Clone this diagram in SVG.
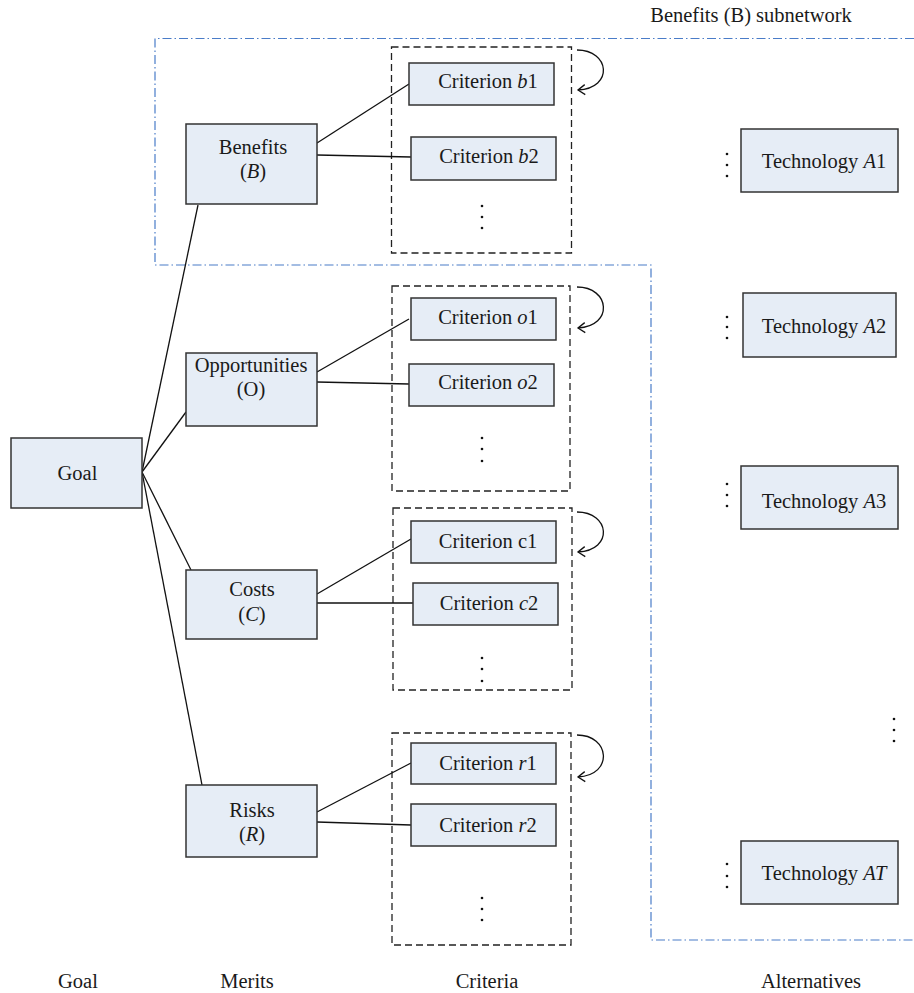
<svg xmlns="http://www.w3.org/2000/svg" width="914" height="993" viewBox="0 0 914 993">
<style>
  .t { font-family: 'Liberation Serif', 'Times New Roman', 'DejaVu Serif', serif; font-size: 20.5px; fill: #1a1a1a; }
  .c { text-anchor: middle; }
  .i { font-style: italic; }
  .box { fill: #e6edf6; stroke: #333; stroke-width: 1.5; }
  .grp { fill: none; stroke: #222; stroke-width: 1.3; stroke-dasharray: 7 4; }
  .sub { fill: none; stroke: #4a7cc8; stroke-width: 1.2; stroke-dasharray: 9 3 1.5 3; }
  .ln { stroke: #111; stroke-width: 1.3; fill: none; }
  .loop { stroke: #111; stroke-width: 1.3; fill: none; marker-end: url(#arr); }
  .dot { fill: #111; }
</style>
<defs>
  <marker id="arr" markerWidth="12" markerHeight="12" refX="9" refY="6" orient="auto" markerUnits="userSpaceOnUse">
    <path d="M2,1 L9,6 L2,11" fill="none" stroke="#111" stroke-width="1.3"/>
  </marker>
</defs>
<rect width="914" height="993" fill="#fff"/>

<g id="subnetwork">
  <path class="sub" d="M914,38.5 L155,38.5 L155,265 L651,265 L651,940 L914,940"/>
  <text class="t c" font-family="Liberation Serif, serif" x="751" y="22">Benefits (B) subnetwork</text>
</g>

<g id="groups">
  <rect class="grp" x="391.5" y="47" width="180" height="206"/>
  <rect class="grp" x="392" y="286" width="178" height="205"/>
  <rect class="grp" x="393" y="508" width="179" height="182"/>
  <rect class="grp" x="392" y="733" width="179" height="212"/>
</g>

<g id="connectors">
  <line class="ln" x1="142" y1="472" x2="198" y2="205"/>
  <line class="ln" x1="142" y1="472" x2="186" y2="412"/>
  <line class="ln" x1="142" y1="472" x2="191" y2="570"/>
  <line class="ln" x1="142" y1="472" x2="202" y2="785"/>
  <line class="ln" x1="317" y1="143" x2="409" y2="84"/>
  <line class="ln" x1="317" y1="155" x2="411" y2="157"/>
  <line class="ln" x1="317" y1="372" x2="409" y2="319"/>
  <line class="ln" x1="317" y1="382" x2="409" y2="384"/>
  <line class="ln" x1="317" y1="594" x2="411" y2="539"/>
  <line class="ln" x1="317" y1="603" x2="413" y2="603"/>
  <line class="ln" x1="317" y1="812" x2="411" y2="763"/>
  <line class="ln" x1="317" y1="822" x2="411" y2="825"/>
  <path class="loop" d="M577,50 C610,50 614,88 578,90"/>
  <path class="loop" d="M577,287 C610,287 614,326 578,328"/>
  <path class="loop" d="M577,512 C610,512 614,550 578,552"/>
  <path class="loop" d="M577,735 C610,735 614,775 578,777"/>
</g>

<g id="goal">
  <rect class="box" x="11" y="438" width="131" height="70"/>
  <text class="t c" font-family="Liberation Serif, serif" x="77.5" y="480">Goal</text>
</g>

<g id="benefits">
  <rect class="box" x="186" y="124" width="131" height="80"/>
  <text class="t c" font-family="Liberation Serif, serif" x="253" y="154">Benefits</text>
  <text class="t c" font-family="Liberation Serif, serif" x="253" y="178">(<tspan class="i">B</tspan>)</text>
</g>
<g id="opportunities">
  <rect class="box" x="186" y="353" width="131" height="73"/>
  <text class="t c" font-family="Liberation Serif, serif" x="251" y="372">Opportunities</text>
  <text class="t c" font-family="Liberation Serif, serif" x="251" y="396">(O)</text>
</g>
<g id="costs">
  <rect class="box" x="186" y="570" width="131" height="69"/>
  <text class="t c" font-family="Liberation Serif, serif" x="252" y="596">Costs</text>
  <text class="t c" font-family="Liberation Serif, serif" x="252" y="621">(<tspan class="i">C</tspan>)</text>
</g>
<g id="risks">
  <rect class="box" x="186" y="785" width="131" height="72"/>
  <text class="t c" font-family="Liberation Serif, serif" x="252" y="817">Risks</text>
  <text class="t c" font-family="Liberation Serif, serif" x="252" y="841">(<tspan class="i">R</tspan>)</text>
</g>

<g id="crit-b1">
  <rect class="box" x="409" y="63" width="145" height="42"/>
  <text class="t c" font-family="Liberation Serif, serif" x="488" y="88">Criterion <tspan class="i">b</tspan>1</text>
</g>
<g id="crit-b2">
  <rect class="box" x="411" y="137" width="145" height="43"/>
  <text class="t c" font-family="Liberation Serif, serif" x="489" y="163">Criterion <tspan class="i">b</tspan>2</text>
</g>
<g id="crit-o1">
  <rect class="box" x="411" y="298" width="145" height="42"/>
  <text class="t c" font-family="Liberation Serif, serif" x="488" y="324">Criterion <tspan class="i">o</tspan>1</text>
</g>
<g id="crit-o2">
  <rect class="box" x="409" y="364" width="145" height="42"/>
  <text class="t c" font-family="Liberation Serif, serif" x="488" y="389">Criterion <tspan class="i">o</tspan>2</text>
</g>
<g id="crit-c1">
  <rect class="box" x="411" y="521" width="145" height="42"/>
  <text class="t c" font-family="Liberation Serif, serif" x="488" y="548">Criterion c1</text>
</g>
<g id="crit-c2">
  <rect class="box" x="413" y="583" width="145" height="42"/>
  <text class="t c" font-family="Liberation Serif, serif" x="489" y="610">Criterion <tspan class="i">c</tspan>2</text>
</g>
<g id="crit-r1">
  <rect class="box" x="411" y="743" width="145" height="41"/>
  <text class="t c" font-family="Liberation Serif, serif" x="488" y="770">Criterion <tspan class="i">r</tspan>1</text>
</g>
<g id="crit-r2">
  <rect class="box" x="411" y="804" width="145" height="42"/>
  <text class="t c" font-family="Liberation Serif, serif" x="488" y="832">Criterion <tspan class="i">r</tspan>2</text>
</g>

<g id="tech-a1">
  <rect class="box" x="741" y="129" width="157" height="63"/>
  <text class="t c" font-family="Liberation Serif, serif" x="824" y="168">Technology <tspan class="i">A</tspan>1</text>
</g>
<g id="tech-a2">
  <rect class="box" x="743" y="293" width="153" height="64"/>
  <text class="t c" font-family="Liberation Serif, serif" x="824" y="333">Technology <tspan class="i">A</tspan>2</text>
</g>
<g id="tech-a3">
  <rect class="box" x="741" y="466" width="157" height="63"/>
  <text class="t c" font-family="Liberation Serif, serif" x="824" y="508">Technology <tspan class="i">A</tspan>3</text>
</g>
<g id="tech-at">
  <rect class="box" x="741" y="841" width="157" height="63"/>
  <text class="t c" font-family="Liberation Serif, serif" x="824" y="880">Technology <tspan class="i">AT</tspan></text>
</g>

<g id="ellipses">
  <circle class="dot" cx="482" cy="206" r="1.3"/><circle class="dot" cx="482" cy="217" r="1.3"/><circle class="dot" cx="482" cy="228" r="1.3"/>
  <circle class="dot" cx="482" cy="438" r="1.3"/><circle class="dot" cx="482" cy="449" r="1.3"/><circle class="dot" cx="482" cy="461" r="1.3"/>
  <circle class="dot" cx="482" cy="658" r="1.3"/><circle class="dot" cx="482" cy="669" r="1.3"/><circle class="dot" cx="482" cy="681" r="1.3"/>
  <circle class="dot" cx="482" cy="898" r="1.3"/><circle class="dot" cx="482" cy="909" r="1.3"/><circle class="dot" cx="482" cy="920" r="1.3"/>
  <circle class="dot" cx="727" cy="154" r="1.3"/><circle class="dot" cx="727" cy="165" r="1.3"/><circle class="dot" cx="727" cy="176" r="1.3"/>
  <circle class="dot" cx="727" cy="317" r="1.3"/><circle class="dot" cx="727" cy="327" r="1.3"/><circle class="dot" cx="727" cy="338" r="1.3"/>
  <circle class="dot" cx="727" cy="484" r="1.3"/><circle class="dot" cx="727" cy="495" r="1.3"/><circle class="dot" cx="727" cy="506" r="1.3"/>
  <circle class="dot" cx="727" cy="864" r="1.3"/><circle class="dot" cx="727" cy="876" r="1.3"/><circle class="dot" cx="727" cy="887" r="1.3"/>
  <circle class="dot" cx="894" cy="719" r="1.3"/><circle class="dot" cx="894" cy="730" r="1.3"/><circle class="dot" cx="894" cy="741" r="1.3"/>
</g>

<g id="column-labels">
  <text class="t c" font-family="Liberation Serif, serif" x="78" y="988">Goal</text>
  <text class="t c" font-family="Liberation Serif, serif" x="247" y="988">Merits</text>
  <text class="t c" font-family="Liberation Serif, serif" x="487" y="988">Criteria</text>
  <text class="t c" font-family="Liberation Serif, serif" x="811" y="988">Alternatives</text>
</g>
</svg>
